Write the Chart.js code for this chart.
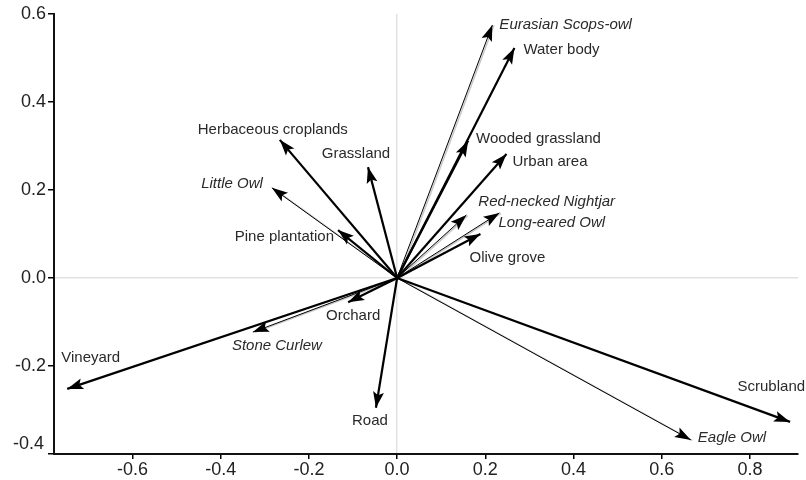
<!DOCTYPE html>
<html>
<head>
<meta charset="utf-8">
<script src="https://cdn.jsdelivr.net/npm/chart.js@4"></script>
<style>
  html, body { margin: 0; padding: 0; background: #fff; }
  #wrap { width: 806px; height: 480px; }
</style>
</head>
<body>
<div id="wrap"><canvas id="biplot" width="806" height="480"></canvas></div>
<script>
// habitat variables (thick arrows)
const envNames = ['Herbaceous croplands', 'Grassland', 'Pine plantation', 'Water body', 'Wooded grassland',
    'Urban area', 'Olive grove', 'Scrubland', 'Road', 'Orchard', 'Vineyard'];
const envX = [-0.266, -0.066, -0.134, 0.266, 0.161, 0.248, 0.189, 0.891, -0.048, -0.111, -0.748];
const envY = [0.314, 0.252, 0.109, 0.523, 0.312, 0.282, 0.100, -0.327, -0.295, -0.055, -0.252];

// owl / bird species (thin arrows, italic labels)
const speciesNames = ['Eurasian Scops-owl', 'Little Owl', 'Red-necked Nightjar', 'Long-eared Owl', 'Stone Curlew', 'Eagle Owl'];
const speciesX = [0.216, -0.284, 0.157, 0.232, -0.327, 0.666];
const speciesY = [0.575, 0.205, 0.143, 0.148, -0.123, -0.368];

const xTicks = [-0.6, -0.4, -0.2, 0.0, 0.2, 0.4, 0.6, 0.8];
const yTicks = [-0.4, -0.2, 0.0, 0.2, 0.4, 0.6];

// label placement relative to arrow tip: [dx, dy, align]
const labelPos = {
    'Herbaceous croplands': [-7, -10, 'center'],
    'Grassland': [-12, -13, 'center'],
    'Pine plantation': [-4, 7, 'right'],
    'Water body': [9, 2, 'left'],
    'Wooded grassland': [8, -2, 'left'],
    'Urban area': [6, 8, 'left'],
    'Olive grove': [-11, 24, 'left'],
    'Scrubland': [15, -35, 'right'],
    'Road': [-6, 13, 'center'],
    'Orchard': [5, 14, 'center'],
    'Vineyard': [-6, -31, 'left'],
    'Eurasian Scops-owl': [7, 0, 'left'],
    'Little Owl': [-9, -4, 'right'],
    'Red-necked Nightjar': [12, -13, 'left'],
    'Long-eared Owl': [-1, 10, 'left'],
    'Stone Curlew': [24, 14, 'center'],
    'Eagle Owl': [7, -2, 'left']
};

const FONT = "'Liberation Sans', Arial, sans-serif";

function makeDatasets(names, xs, ys, species) {
    return names.map((name, i) => ({
        label: name,
        species: species,
        data: [{ x: 0, y: 0 }, { x: xs[i], y: ys[i] }],
        showLine: true,
        borderColor: '#000',
        borderWidth: species ? 1 : 2.2,
        pointRadius: 0,
        fill: false
    }));
}

const datasets = makeDatasets(speciesNames, speciesX, speciesY, true)
    .concat(makeDatasets(envNames, envX, envY, false));

const arrowPlugin = {
    id: 'arrows',
    beforeDatasetsDraw(chart) {
        // faint grey shadow next to the thin species lines
        const { ctx, scales: { x, y } } = chart;
        ctx.save();
        ctx.strokeStyle = '#c8c8c8';
        ctx.lineWidth = 1.5;
        chart.data.datasets.forEach(ds => {
            if (!ds.species) return;
            const p = ds.data[1];
            ctx.beginPath();
            ctx.moveTo(x.getPixelForValue(0) + 1.5, y.getPixelForValue(0) + 0.5);
            ctx.lineTo(x.getPixelForValue(p.x) + 1.5, y.getPixelForValue(p.y) + 0.5);
            ctx.stroke();
        });
        ctx.restore();
    },
    afterDatasetsDraw(chart) {
        const { ctx, scales: { x, y } } = chart;
        const x0 = x.getPixelForValue(0);
        const y0 = y.getPixelForValue(0);
        ctx.save();
        chart.data.datasets.forEach(ds => {
            const p = ds.data[1];
            const x1 = x.getPixelForValue(p.x);
            const y1 = y.getPixelForValue(p.y);
            const a = Math.atan2(y1 - y0, x1 - x0);
            const len = 16, w = 5.5;
            const c = Math.cos(a), s = Math.sin(a);
            ctx.fillStyle = '#000';
            ctx.beginPath();
            ctx.moveTo(x1, y1);
            ctx.lineTo(x1 - len * c + w * s, y1 - len * s - w * c);
            ctx.lineTo(x1 - len * c * 0.8, y1 - len * s * 0.8);
            ctx.lineTo(x1 - len * c - w * s, y1 - len * s + w * c);
            ctx.closePath();
            ctx.fill();

            const lp = labelPos[ds.label];
            ctx.font = (ds.species ? 'italic ' : '') + '15px ' + FONT;
            ctx.fillStyle = '#2a2a2a';
            ctx.textAlign = lp[2];
            ctx.textBaseline = 'middle';
            ctx.fillText(ds.label, x1 + lp[0], y1 + lp[1]);
        });

        // the lowest y label sits a little above its tick in the original
        ctx.font = '18px ' + FONT;
        ctx.fillStyle = '#222';
        ctx.textAlign = 'right';
        ctx.textBaseline = 'middle';
        ctx.fillText(yTicks[0].toFixed(1), y.left + y.width - 10, y.getPixelForValue(yTicks[0]) - 10);
        ctx.restore();
    }
};

const zeroGrid = (ctx) => ctx.tick && ctx.tick.value === 0 ? '#e2e2e2' : 'rgba(0,0,0,0)';

new Chart(document.getElementById('biplot'), {
    type: 'scatter',
    data: { datasets: datasets },
    options: {
        responsive: false,
        animation: false,
        events: [],
        layout: { padding: { top: 14, right: 8, left: 0, bottom: 0 } },
        plugins: { legend: { display: false }, tooltip: { enabled: false } },
        scales: {
            x: {
                type: 'linear',
                min: -0.778,
                max: 0.909,
                afterFit: s => { s.height = 26; },
                afterBuildTicks: s => { s.ticks = xTicks.map(v => ({ value: v })); },
                ticks: {
                    font: { family: FONT, size: 18 },
                    color: '#222',
                    padding: 0,
                    callback: v => v.toFixed(1)
                },
                grid: { color: zeroGrid, lineWidth: 1.5, tickColor: '#000', tickLength: 5, tickWidth: 1.5 },
                border: { display: true, color: '#111', width: 2 }
            },
            y: {
                type: 'linear',
                min: -0.4,
                max: 0.6,
                afterFit: s => { s.width = 54; },
                afterBuildTicks: s => { s.ticks = yTicks.map(v => ({ value: v })); },
                ticks: {
                    font: { family: FONT, size: 18 },
                    color: '#222',
                    padding: 2,
                    callback: v => (Math.abs(v - yTicks[0]) < 1e-9 ? '' : v.toFixed(1))
                },
                grid: { color: zeroGrid, lineWidth: 1.5, tickColor: '#000', tickLength: 6, tickWidth: 1.5 },
                border: { display: true, color: '#111', width: 2 }
            }
        }
    },
    plugins: [arrowPlugin]
});
</script>
</body>
</html>
